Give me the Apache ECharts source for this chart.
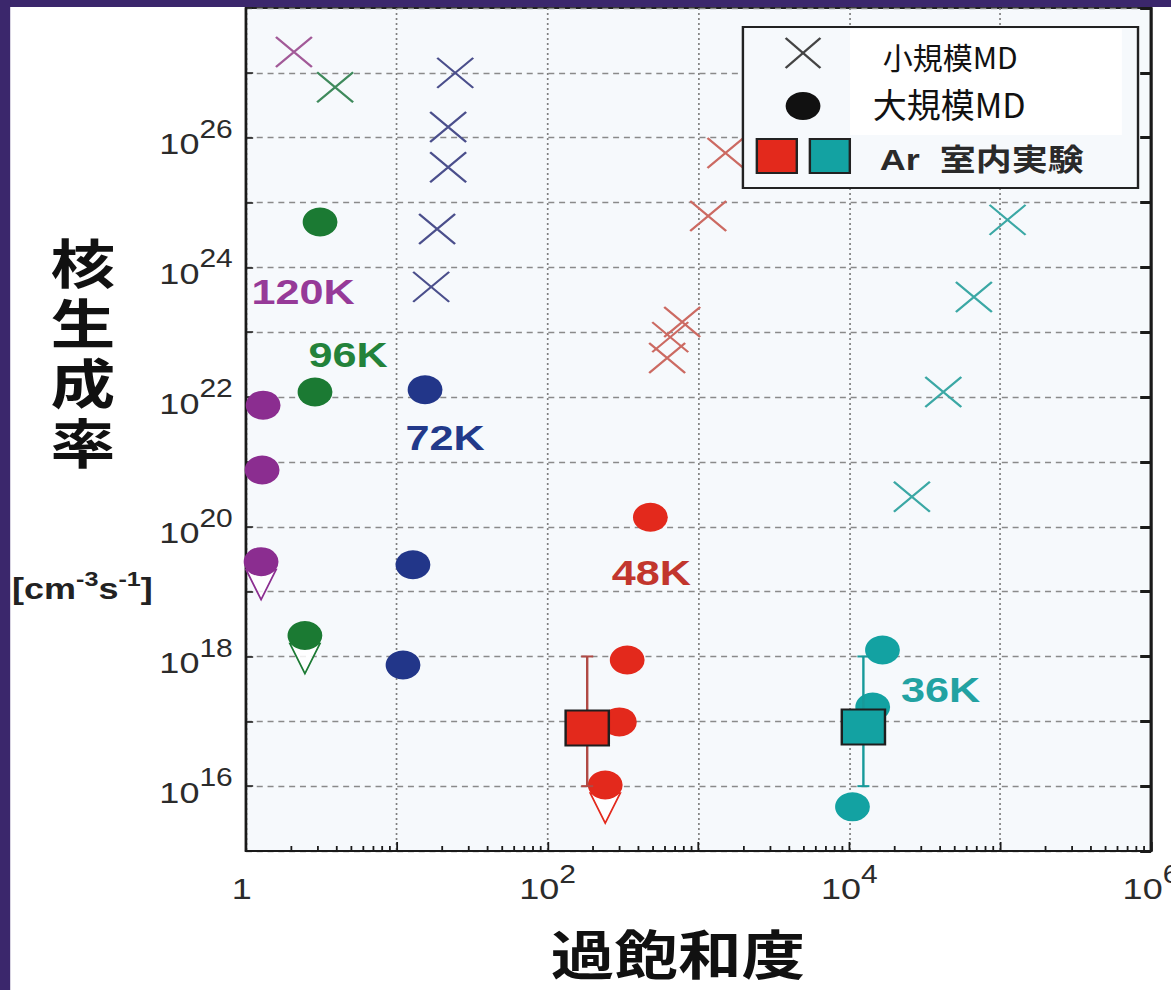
<!DOCTYPE html>
<html lang="ja">
<head>
<meta charset="utf-8">
<title>核生成率と過飽和度</title>
<script src="https://cdn.jsdelivr.net/npm/echarts@6.0.0/dist/echarts.min.js"></script>
<style>
  html, body { margin: 0; padding: 0; background: #fff; overflow: hidden; }
  /* the figure is laid out on a narrower canvas and widened horizontally */
  #chart { width: 976px; height: 990px; transform: scaleX(1.1998); transform-origin: 0 0; }
</style>
</head>
<body>
<div id="chart"></div>
<script>
// ---- data: supersaturation S (x) vs nucleation rate J [cm^-3 s^-1] (y) ----
const temperatures = ['120K', '96K', '72K', '48K', '36K'];

// 小規模MD (small-scale MD runs)
const smallMD120K = [[2.08, 2.1e27]];
const smallMD96K  = [[3.9, 6.0e26]];
const smallMD72K  = [[24.4, 1.0e27], [21.9, 1.46e26], [21.9, 3.5e25], [18.5, 3.9e24], [16.9, 5.0e23]];
const smallMD48K  = [[1510, 5.8e25], [1160, 6.2e24], [780, 1.44e23], [650, 8.4e22], [620, 4.0e22]];
const smallMD36K  = [[1.12e5, 5.4e24], [6.7e4, 3.5e23], [4.2e4, 1.2e22], [2.6e4, 2.9e20]];

// 大規模MD (large-scale MD runs)
const largeMD120K = [[1.30, 7.5e21], [1.28, 7.5e20], [1.26, 2.9e19]];
const largeMD96K  = [[3.10, 5.0e24], [2.87, 1.2e22], [2.46, 2.1e18]];
const largeMD72K  = [[15.4, 1.3e22], [12.8, 2.6e19], [11.0, 7.4e17]];
const largeMD48K  = [[480, 1.4e20], [337, 8.8e17], [299, 9.8e16], [241, 1.04e16]];
const largeMD36K  = [[1.66e4, 1.26e18], [1.43e4, 1.66e17], [1.05e4, 4.8e15]];

// large-scale runs that only give an upper bound on J
const upperBound120K = [[1.26, 2.9e19]];
const upperBound96K  = [[2.46, 2.1e18]];
const upperBound48K  = [[241, 1.04e16]];

// Ar 室内実験 (laboratory experiments): [S, J, J_min, J_max]
const experiment48K = [[183, 7.9e16, 1e16, 1e18]];
const experiment36K = [[1.24e4, 8.2e16, 1e16, 1e18]];

// temperature tags, anchored in data units (same order as temperatures)
const tagAnchors = [[2.39, 4.2e23], [4.75, 4.6e22], [20.9, 2.4e21], [487, 2.0e19], [4.03e4, 3.1e17]];

// axis extents (decades) and labelled decades
const xDecades = [0, 6];
const yDecades = [15, 28];
const xLabelledExponents = [0, 2, 4, 6];
const yLabelledExponents = [16, 18, 20, 22, 24, 26];

// ---- styling ----
const SANS = "'Liberation Sans', Arial, Helvetica, sans-serif";
const CJK = "'Noto Sans CJK JP', 'Noto Sans CJK SC', sans-serif";
const STRETCH = 1171 / 976;

const markColors  = { '120K': '#8b2d90', '96K': '#1b7a33', '72K': '#223689', '48K': '#e3291c', '36K': '#13a2a2' };
const crossColors = { '120K': '#a25a98', '96K': '#3f8a5c', '72K': '#4b4f8c', '48K': '#cc6a62', '36K': '#3ba8a5' };
const tagColors   = { '120K': '#963a98', '96K': '#23823a', '72K': '#22398a', '48K': '#c2362d', '36K': '#22a2a2' };

const smallSets = [smallMD120K, smallMD96K, smallMD72K, smallMD48K, smallMD36K];
const largeSets = [largeMD120K, largeMD96K, largeMD72K, largeMD48K, largeMD36K];
const boundSets = { '120K': upperBound120K, '96K': upperBound96K, '48K': upperBound48K };

const CROSS = 'path://M0,0L20,20M20,0L0,20';

// minor ticks of the log x axis at 2..9 x 10^n
const minorTickValues = [];
for (let e = xDecades[0]; e < xDecades[1]; e++) {
  for (let k = 2; k <= 9; k++) minorTickValues.push([k * Math.pow(10, e), Math.pow(10, yDecades[0])]);
}

const tickRich = {
  b: { fontSize: 30, fontFamily: SANS, color: '#2b2b2b', verticalAlign: 'bottom' },
  s: { fontSize: 25, fontFamily: SANS, color: '#2b2b2b', verticalAlign: 'bottom', padding: [0, 0, 17, 0] }
};

function powerLabel(e, shown) {
  e = Math.round(e);
  if (shown.indexOf(e) < 0) return '';
  if (e === 0) return '{b|1}{s| }';
  return '{b|10}{s|' + e + '}';
}

function errorBarItem(params, api) {
  const x = api.value(0);
  const lo = api.coord([x, api.value(2)]);
  const hi = api.coord([x, api.value(3)]);
  const half = 5;
  const style = { stroke: api.visual('color'), lineWidth: 2 };
  return {
    type: 'group',
    children: [
      { type: 'line', shape: { x1: lo[0], y1: lo[1], x2: hi[0], y2: hi[1] }, style },
      { type: 'line', shape: { x1: lo[0] - half, y1: lo[1], x2: lo[0] + half, y2: lo[1] }, style },
      { type: 'line', shape: { x1: hi[0] - half, y1: hi[1], x2: hi[0] + half, y2: hi[1] }, style }
    ]
  };
}

function minorTickItem(params, api) {
  const p = api.coord([api.value(0), api.value(1)]);
  return { type: 'line', shape: { x1: p[0], y1: p[1], x2: p[0], y2: p[1] - 5 },
           style: { stroke: '#1a1a1a', lineWidth: 1.5 } };
}

const series = [];

series.push({
  type: 'custom', name: 'minor ticks', renderItem: minorTickItem,
  data: minorTickValues, encode: { x: 0, y: 1 }, silent: true, z: 10, clip: false
});

temperatures.forEach((t, i) => {
  if (boundSets[t]) {
    series.push({
      type: 'scatter', name: '上限 ' + t, data: boundSets[t],
      symbol: 'triangle', symbolRotate: 180, symbolSize: [25, 30], symbolOffset: [0, 23],
      itemStyle: { color: 'rgba(255,255,255,0.85)', borderColor: markColors[t], borderWidth: 1.6, opacity: 1 },
      silent: true, z: 2
    });
  }
  series.push({
    type: 'scatter', name: '大規模MD ' + t, data: largeSets[i],
    symbol: 'circle', symbolSize: 29,
    itemStyle: { color: markColors[t], opacity: 1 },
    silent: true, z: 3
  });
  series.push({
    type: 'scatter', name: '小規模MD ' + t, data: smallSets[i],
    symbol: CROSS, symbolSize: [30, 30],
    itemStyle: { color: 'none', borderColor: crossColors[t], borderWidth: 2, opacity: 1 },
    silent: true, z: 4
  });
});

[[experiment48K, '#b04a45', markColors['48K']], [experiment36K, '#179a9a', markColors['36K']]].forEach(([set, barColor, fill]) => {
  series.push({
    type: 'custom', name: 'Ar 室内実験 誤差', renderItem: errorBarItem,
    data: set, encode: { x: 0, y: 1 }, itemStyle: { color: barColor }, silent: true, z: 4
  });
  series.push({
    type: 'scatter', name: 'Ar 室内実験', data: set.map(d => [d[0], d[1]]),
    symbol: 'rect', symbolSize: [36, 35],
    itemStyle: { color: fill, borderColor: '#1e1e1e', borderWidth: 2, opacity: 1 },
    silent: true, z: 5
  });
});

series.push({
  type: 'scatter', name: 'temperature tags', symbolSize: 1,
  itemStyle: { color: 'transparent', opacity: 1 },
  data: tagAnchors.map((p, i) => ({ value: p, name: temperatures[i], label: { color: tagColors[temperatures[i]] } })),
  label: { show: true, position: 'inside', formatter: '{b}', fontSize: 36, fontWeight: 'bold', fontFamily: SANS,
           opacity: 1, textBorderWidth: 0, textShadowBlur: 0 },
  silent: true, z: 6
});

const legendLeft = 619.2, legendTop = 27;

const graphic = [
  // legend frame
  { type: 'rect', z: 100, shape: { x: legendLeft, y: legendTop, width: 329.3, height: 161 },
    style: { fill: '#f6f9fc', stroke: '#222', lineWidth: 2 } },
  { type: 'rect', z: 101, shape: { x: 708.5, y: 29, width: 226.5, height: 106 }, style: { fill: '#ffffff' } },
  // legend: cross
  { type: 'line', z: 102, shape: { x1: 654.8, y1: 38, x2: 683.8, y2: 68 }, style: { stroke: '#444', lineWidth: 2 } },
  { type: 'line', z: 102, shape: { x1: 683.8, y1: 38, x2: 654.8, y2: 68 }, style: { stroke: '#444', lineWidth: 2 } },
  // legend: dot
  { type: 'ellipse', z: 102, shape: { cx: 669.3, cy: 106, rx: 14.5, ry: 14 }, style: { fill: '#111' } },
  // legend: experiment squares
  { type: 'rect', z: 102, shape: { x: 630.8, y: 139, width: 33.3, height: 34 },
    style: { fill: markColors['48K'], stroke: '#222', lineWidth: 2 } },
  { type: 'rect', z: 102, shape: { x: 675, y: 139, width: 33.3, height: 34 },
    style: { fill: markColors['36K'], stroke: '#222', lineWidth: 2 } },
  // legend texts
  { type: 'text', z: 103, x: 735.8, y: 56, scaleX: 1 / STRETCH,
    style: { text: '小規模MD', fontSize: 30, fontFamily: CJK, fill: '#111', align: 'left', verticalAlign: 'middle' } },
  { type: 'text', z: 103, x: 727.5, y: 103, scaleX: 1 / STRETCH,
    style: { text: '大規模MD', fontSize: 34, fontFamily: CJK, fill: '#111', align: 'left', verticalAlign: 'middle' } },
  { type: 'text', z: 103, x: 733.3, y: 160,
    style: { text: 'Ar  室内実験', fontSize: 30, fontWeight: 'bold', fontFamily: SANS + ", 'Noto Sans CJK JP'",
             fill: '#2a2a2a', align: 'left', verticalAlign: 'middle' } },
  // axis titles
  { type: 'text', z: 50, x: 69, y: 350,
    style: { text: '核\n生\n成\n率', fontSize: 54, lineHeight: 60, fontWeight: 'bold', fontFamily: CJK,
             fill: '#111', align: 'center', verticalAlign: 'middle' } },
  { type: 'text', z: 50, x: 565, y: 952,
    style: { text: '過飽和度', fontSize: 53, fontWeight: 'bold', fontFamily: CJK,
             fill: '#111', align: 'center', verticalAlign: 'middle' } },
  { type: 'text', z: 50, x: 10, y: 586,
    style: { text: '{b|[cm}{s|-3}{b|s}{s|-1}{b|]}', align: 'left', verticalAlign: 'middle',
             rich: {
               b: { fontSize: 30, fontFamily: SANS, fontWeight: 'bold', fill: '#222', verticalAlign: 'bottom' },
               s: { fontSize: 21, fontFamily: SANS, fontWeight: 'bold', fill: '#222', verticalAlign: 'bottom', padding: [0, 0, 15, 0] }
             } } },
  // frame bands
  { type: 'rect', z: 200, shape: { x: 0, y: 0, width: 976, height: 7 }, style: { fill: '#3b276c' } },
  { type: 'rect', z: 200, shape: { x: 0, y: 0, width: 8.5, height: 990 }, style: { fill: '#3b276c' } }
];

const hiddenAxisParts = {
  axisLine: { show: false }, axisTick: { show: false }, axisLabel: { show: false }, splitLine: { show: false }
};

const chart = echarts.init(document.getElementById('chart'), null, { renderer: 'svg' });
chart.setOption({
  animation: false,
  backgroundColor: '#ffffff',
  grid: {
    left: 205, right: 16.7, top: 8, bottom: 139,
    show: true, backgroundColor: '#f6f9fc', borderColor: '#222', borderWidth: 2,
    containLabel: false, outerBoundsMode: 'none'
  },
  xAxis: {
    type: 'log', logBase: 10, min: Math.pow(10, xDecades[0]), max: Math.pow(10, xDecades[1]), splitNumber: 6,
    axisLine: { show: true, lineStyle: { color: '#1a1a1a', width: 2 } },
    axisTick: { show: true, inside: true, length: 9, lineStyle: { color: '#1a1a1a', width: 1.5 } },
    splitLine: { show: true, lineStyle: { color: '#7f7f7f', type: [2, 3], width: 1.4 } },
    axisLabel: {
      margin: 11, showMinLabel: true, showMaxLabel: true, hideOverlap: false,
      formatter: v => powerLabel(Math.log10(v), xLabelledExponents), rich: tickRich
    }
  },
  yAxis: [
    // log axis that places the marks
    Object.assign({ type: 'log', logBase: 10, min: Math.pow(10, yDecades[0]), max: Math.pow(10, yDecades[1]),
                    position: 'left' }, hiddenAxisParts),
    // decade grid, ticks and labels (exponent units, one per decade)
    {
      type: 'value', min: yDecades[0], max: yDecades[1], interval: 1, position: 'left',
      axisLine: { show: true, lineStyle: { color: '#1a1a1a', width: 2 } },
      axisTick: { show: true, inside: true, length: 6, lineStyle: { color: '#1a1a1a', width: 1.5 } },
      splitLine: { show: true, lineStyle: { color: '#8a8a8a', type: [5, 4], width: 1.4 } },
      axisLabel: {
        margin: 11, showMinLabel: true, showMaxLabel: true, hideOverlap: false,
        formatter: v => powerLabel(v, yLabelledExponents), rich: tickRich
      }
    },
    {
      type: 'value', min: yDecades[0], max: yDecades[1], interval: 1, position: 'right',
      axisLine: { show: true, lineStyle: { color: '#1a1a1a', width: 2.5 } },
      axisTick: { show: true, inside: true, length: 9, lineStyle: { color: '#1a1a1a', width: 3 } },
      splitLine: { show: false },
      axisLabel: { show: false }
    }
  ],
  series: series,
  graphic: graphic
});
</script>
</body>
</html>
